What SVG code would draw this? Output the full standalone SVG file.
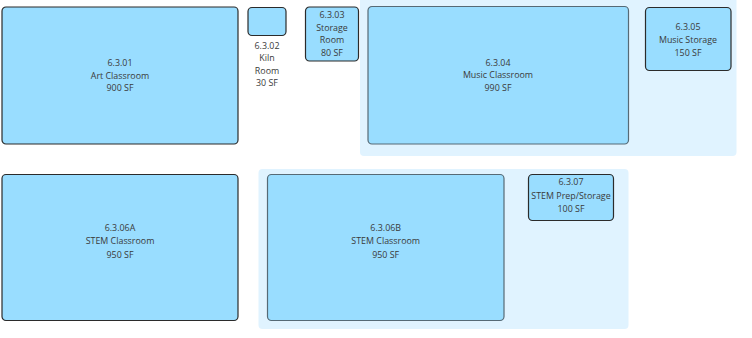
<svg xmlns="http://www.w3.org/2000/svg" width="752" height="338" viewBox="0 0 752 338">
<style>
.bg{fill:#e0f3ff;}
.room{fill:#99ddff;stroke:#2b2b2b;stroke-width:1.2;}
.room2{fill:#99ddff;stroke:#566a76;stroke-width:1.2;}
text{font-family:"Open Sans","Liberation Sans",sans-serif;font-size:8.9px;fill:#3a3a3a;text-anchor:middle;}
</style>
<g id="music-zone"><rect class="bg" x="360" y="-3" width="376.5" height="159" rx="4"/></g>
<g id="stem-zone"><rect class="bg" x="258.5" y="169" width="370" height="160" rx="4"/></g>
<g id="connectors"></g>
<g id="r6301">
<rect class="room" x="2" y="7" width="236" height="137" rx="4"/>
<text x="120" y="65.5">6.3.01</text>
<text x="120" y="78.5">Art Classroom</text>
<text x="120" y="91">900 SF</text>
</g>
<g id="r6302">
<rect class="room" x="248" y="7.5" width="38" height="28" rx="4"/>
<text x="267" y="49">6.3.02</text>
<text x="267" y="61.3">Kiln</text>
<text x="267" y="73.8">Room</text>
<text x="267" y="86.3">30 SF</text>
</g>
<g id="r6303">
<rect class="room" x="305.5" y="7" width="53" height="54" rx="4"/>
<text x="332" y="18">6.3.03</text>
<text x="332" y="30.6">Storage</text>
<text x="332" y="43">Room</text>
<text x="332" y="55.6">80 SF</text>
</g>
<g id="r6304">
<rect class="room2" x="368" y="6.5" width="260.5" height="137.5" rx="4"/>
<text x="498" y="65.6">6.3.04</text>
<text x="498" y="78">Music Classroom</text>
<text x="498" y="90.6">990 SF</text>
</g>
<g id="r6305">
<rect class="room" x="645.5" y="7.5" width="85.5" height="63" rx="4"/>
<text x="688" y="30">6.3.05</text>
<text x="688" y="43">Music Storage</text>
<text x="688" y="55.6">150 SF</text>
</g>
<g id="r6306A">
<rect class="room" x="2" y="174.5" width="236" height="146" rx="4"/>
<text x="120" y="230.6">6.3.06A</text>
<text x="120" y="244">STEM Classroom</text>
<text x="120" y="257.6">950 SF</text>
</g>
<g id="r6306B">
<rect class="room2" x="267.5" y="174.5" width="236.5" height="146" rx="4"/>
<text x="385.7" y="230.6">6.3.06B</text>
<text x="385.7" y="244">STEM Classroom</text>
<text x="385.7" y="257.6">950 SF</text>
</g>
<g id="r6307">
<rect class="room" x="528.5" y="174.5" width="85" height="46" rx="4"/>
<text x="571" y="185">6.3.07</text>
<text x="571" y="199">STEM Prep/Storage</text>
<text x="571" y="212">100 SF</text>
</g>
</svg>
